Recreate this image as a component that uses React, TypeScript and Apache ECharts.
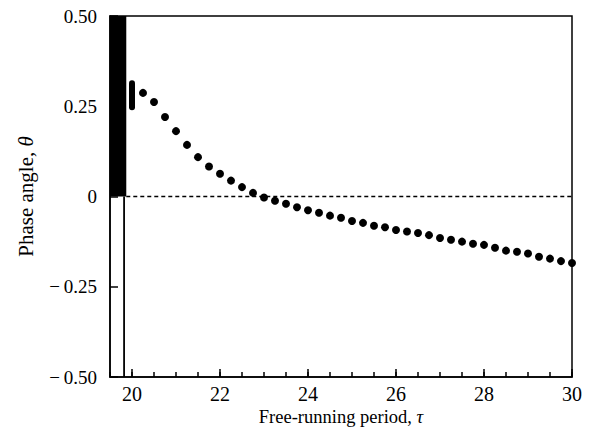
import React, { useEffect, useRef } from "react";
import * as echarts from "echarts";

// Entrained phase angle vs free-running period
const phaseTau = [
  20.25, 20.5, 20.75, 21.0, 21.25, 21.5, 21.75, 22.0, 22.25, 22.5,
  22.75, 23.0, 23.25, 23.5, 23.75, 24.0, 24.25, 24.5, 24.75, 25.0,
  25.25, 25.5, 25.75, 26.0, 26.25, 26.5, 26.75, 27.0, 27.25, 27.5,
  27.75, 28.0, 28.25, 28.5, 28.75, 29.0, 29.25, 29.5, 29.75, 30.0,
];
const phaseTheta = [
  0.287, 0.262, 0.22, 0.181, 0.143, 0.109, 0.083, 0.063, 0.044, 0.026,
  0.01, -0.003, -0.012, -0.02, -0.03, -0.038, -0.045, -0.053, -0.059, -0.068,
  -0.073, -0.081, -0.085, -0.093, -0.097, -0.101, -0.107, -0.115, -0.12, -0.125,
  -0.131, -0.134, -0.142, -0.15, -0.153, -0.158, -0.167, -0.172, -0.179, -0.184,
];
// cluster of values at tau = 20
const clusterTau = [20.0, 20.0];
const clusterTheta = [0.247, 0.314];
// non-entrained region (filled band)
const bandTau = [19.5, 19.87];
const bandTheta = [0, 0.5];
// boundary line in lower half
const boundaryTau = [19.82, 19.82];
const boundaryTheta = [-0.5, 0];
// zero reference line
const zeroTau = [19.87, 30];
const zeroTheta = [0, 0];

const xMajorTicks = [20, 22, 24, 26, 28, 30];
const xTickLabels = ["20", "22", "24", "26", "28", "30"];
const yTickLabels = ["\u2212\u20090.50", "\u2212\u20090.25", "0", "0.25", "0.50"];

const FONT = "'Liberation Serif', 'Times New Roman', serif";

export default function App() {
  const ref = useRef<HTMLDivElement>(null);
  useEffect(() => {
    if (!ref.current) return;
    const chart = echarts.init(ref.current, undefined, { renderer: "svg" });
    const pairs = (xs: number[], ys: number[]) => xs.map((x, i) => [x, ys[i]]);
    chart.setOption({
      animation: false,
      grid: {
        left: 110,
        right: 21,
        top: 16,
        bottom: 58,
        show: true,
        borderColor: "#000",
        borderWidth: 1.5,
      },
      xAxis: [
        {
          type: "value",
          min: 19.5,
          max: 30,
          interval: 0.5,
          z: 10,
          axisLine: { show: true, onZero: false, lineStyle: { color: "#000", width: 1.5 } },
          axisTick: { show: true, inside: true, length: 5, lineStyle: { color: "#000", width: 1.5 } },
          axisLabel: { show: false },
          splitLine: { show: false },
          name: "Free-running period, {i|\u03c4}",
          nameLocation: "middle",
          nameGap: 30,
          nameTextStyle: {
            fontFamily: FONT,
            fontSize: 18.5,
            color: "#000",
            rich: { i: { fontFamily: FONT, fontSize: 18.5, fontStyle: "italic", color: "#000" } },
          },
        },
        {
          type: "value",
          min: 19.5,
          max: 30,
          position: "bottom",
          z: 10,
          axisLine: { show: false, onZero: false },
          axisTick: {
            show: true,
            inside: true,
            length: 8,
            customValues: xMajorTicks,
            lineStyle: { color: "#000", width: 1.5 },
          },
          axisLabel: {
            show: true,
            customValues: xMajorTicks,
            formatter: (v: number) => xTickLabels[xMajorTicks.indexOf(v)] ?? "",
            fontFamily: FONT,
            fontSize: 20,
            color: "#000",
            margin: 7,
          },
          splitLine: { show: false },
        },
      ],
      yAxis: {
        type: "value",
        min: -0.5,
        max: 0.5,
        interval: 0.25,
        z: 10,
        axisLine: { show: true, onZero: false, lineStyle: { color: "#000", width: 1.5 } },
        axisTick: { show: true, inside: true, length: 8, lineStyle: { color: "#000", width: 1.5 } },
        axisLabel: {
          formatter: (_v: number, i: number) => yTickLabels[i],
          fontFamily: FONT,
          fontSize: 19,
          color: "#000",
          margin: 13,
        },
        splitLine: { show: false },
        name: "Phase angle, {i|\u03b8}",
        nameLocation: "middle",
        nameGap: 74,
        nameRotate: 90,
        nameTextStyle: {
          fontFamily: FONT,
          fontSize: 21,
          color: "#000",
          rich: { i: { fontFamily: FONT, fontSize: 21, fontStyle: "italic", color: "#000" } },
        },
      },
      series: [
        {
          type: "line",
          data: pairs(zeroTau, zeroTheta),
          symbol: "none",
          lineStyle: { color: "#000", width: 1.3, type: [4, 3] },
          silent: true,
          z: 1,
          markArea: {
            silent: true,
            itemStyle: { color: "#000", opacity: 1 },
            data: [[{ coord: [bandTau[0], bandTheta[0]] }, { coord: [bandTau[1], bandTheta[1]] }]],
          },
        },
        {
          type: "line",
          data: pairs(boundaryTau, boundaryTheta),
          symbol: "none",
          lineStyle: { color: "#000", width: 1.8 },
          silent: true,
        },
        {
          type: "line",
          data: pairs(clusterTau, clusterTheta),
          symbol: "none",
          lineStyle: { color: "#000", width: 6, cap: "round" },
          silent: true,
        },
        {
          type: "scatter",
          data: pairs(phaseTau, phaseTheta),
          symbol: "circle",
          symbolSize: 8,
          itemStyle: { color: "#000", opacity: 1 },
          clip: false,
          silent: true,
          z: 5,
        },
      ],
    });
    return () => chart.dispose();
  }, []);
  return (
    <div
      ref={ref}
      style={{ position: "fixed", left: 0, top: 0, width: 593, height: 435, background: "#fff" }}
    />
  );
}
